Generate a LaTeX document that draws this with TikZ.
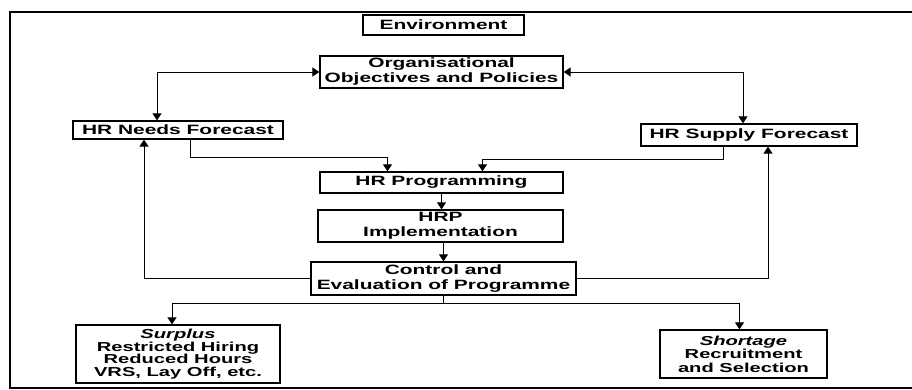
\documentclass[tikz,border=0pt]{standalone}
\usepackage{fontspec}
\setmainfont{Liberation Sans}[FakeStretch=1.55]
\usetikzlibrary{arrows.meta}
\begin{document}
\begin{tikzpicture}[x=1pt,y=-1pt,
  box/.style={draw,line width=1.3pt,inner sep=0.5pt,align=center,anchor=center,
    font=\fontsize{13.5}{15}\selectfont\bfseries},
  conn/.style={line width=0.9pt,-{Triangle[length=7pt,width=9pt]}},
  dconn/.style={line width=0.9pt,{Triangle[length=7pt,width=9pt]}-{Triangle[length=7pt,width=9pt]}}]
\useasboundingbox (0,0) rectangle (912,390);
\draw[line width=1.8pt] (930,12) -- (10,12) -- (10,388) -- (930,388);
\node[box,minimum width=161,minimum height=20] (env) at (443.5,25) {Environment};
\node[box,minimum width=243,minimum height=32] (org) at (441.5,72) {Organisational\\Objectives and Policies};
\node[box,minimum width=210,minimum height=18] (needs) at (178,130) {HR Needs Forecast};
\node[box,minimum width=216,minimum height=22] (supply) at (749,135) {HR Supply Forecast};
\node[box,minimum width=243,minimum height=21] (prog) at (441.5,182.5) {HR Programming};
\node[box,minimum width=245,minimum height=32] (impl) at (440.5,226) {HRP\\Implementation};
\node[box,minimum width=265,minimum height=33] (ctrl) at (443.5,278.5) {Control and\\Evaluation of Programme};
\node[box,minimum width=204,minimum height=58,font=\fontsize{13}{12.7}\selectfont\bfseries] (surplus) at (178,354) {\itshape Surplus\\Restricted Hiring\\Reduced Hours\\VRS, Lay Off, etc.};
\node[box,minimum width=167,minimum height=48,font=\fontsize{13}{13.5}\selectfont\bfseries] (shortage) at (743.5,354) {\itshape Shortage\\Recruitment\\and Selection};
\draw[dconn] (org.west) -| ([xshift=-21pt]needs.north);
\draw[dconn] (org.east) -| ([xshift=-6pt]supply.north);
\draw[conn] ([xshift=12pt]needs.south) -- ++(0,18) -| ([xshift=-54pt]prog.north);
\draw[conn] ([xshift=-26pt]supply.south) -- ++(0,13) -| ([xshift=41pt]prog.north);
\draw[conn] (prog.south) -- (impl.north -| prog.south);
\draw[conn] (impl.south -| ctrl.north) -- (ctrl.north);
\draw[conn] (ctrl.west) -| ([xshift=-34pt]needs.south);
\draw[conn] (ctrl.east) -| ([xshift=19pt]supply.south);
\draw[line width=0.9pt] (ctrl.south) -- ++(0,8) coordinate (split);
\draw[conn] (split) -| ([xshift=-6pt]surplus.north);
\draw[conn] (split) -| ([xshift=-4pt]shortage.north);
\end{tikzpicture}
\end{document}
